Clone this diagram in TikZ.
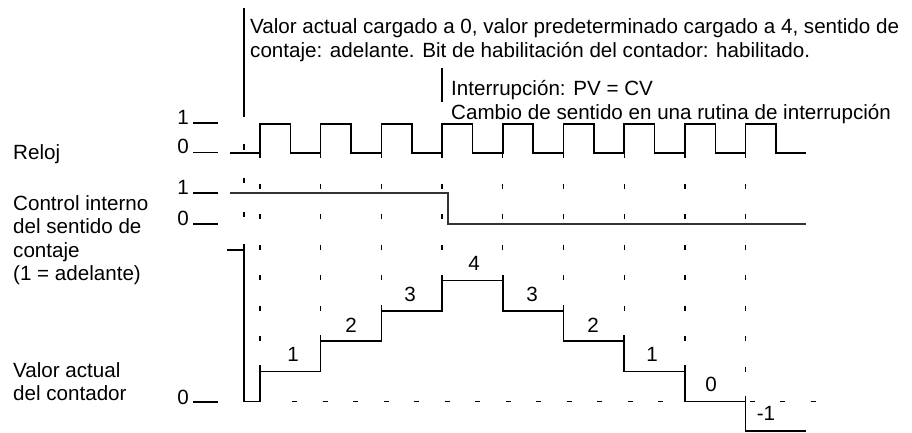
\documentclass[tikz,border=0pt]{standalone}
\usepackage{fontspec}
\setmainfont{Liberation Sans}
\begin{document}
\begin{tikzpicture}[x=1pt,y=-1pt,
  txt/.style={inner sep=0pt, anchor=base west, font=\fontsize{20.6}{23.5}\selectfont},
  lvl/.style={inner sep=0pt, anchor=base east, font=\fontsize{20.6}{23.5}\selectfont},
  num/.style={inner sep=0pt, anchor=center, font=\fontsize{20.6}{23.5}\selectfont},
  sig/.style={line width=1.5pt},
  ctl/.style={line width=1.7pt, black!80},
  tick/.style={line width=1.4pt},
  gridline/.style={line width=1.3pt, dash pattern=on 5pt off 25.5pt},
]
\useasboundingbox (0,0) rectangle (912,432);

% ---- annotations ----
\coordinate (a1top) at (244,8);
\coordinate (a1bot) at (244,117);
\draw[tick] (a1top) -- (a1bot);
\node[txt] (t1) at (250,33) {Valor actual cargado a 0, valor predeterminado cargado a 4, sentido de};
\node[txt] (t2) at (250,57) {contaje: adelante. Bit de habilitación del contador: habilitado.};

\coordinate (a2top) at (442,68);
\coordinate (a2bot) at (442,102);
\draw[tick] (a2top) -- (a2bot);
\node[txt] (t3) at (451,95) {Interrupción: PV = CV};
\node[txt] (t4) at (451,119) {Cambio de sentido en una rutina de interrupción};

% ---- left labels ----
\node[txt] (reloj) at (13,159) {Reloj};
\node[txt] (c1) at (13,210) {Control interno};
\node[txt] (c2) at (13,233.5) {del sentido de};
\node[txt] (c3) at (13,257) {contaje};
\node[txt] (c4) at (13,280.5) {(1 = adelante)};
\node[txt] (v1) at (13,377) {Valor actual};
\node[txt] (v2) at (13,400.5) {del contador};

% ---- level marks ----
\node[lvl] (r1) at (189,124) {1};
\draw[tick] (193,123) -- (218,123);
\node[lvl] (r0) at (189,153) {0};
\draw[tick] (193,152.5) -- (218,152.5);
\node[lvl] (k1) at (189,194) {1};
\draw[tick] (193,193) -- (218,193);
\node[lvl] (k0) at (189,225) {0};
\draw[tick] (193,224) -- (218,224);
\node[lvl] (n0) at (189,404) {0};
\draw[tick] (193,402) -- (218,402);

% ---- dashed guide columns ----
\draw[tick] (244,144) -- (244,150) (244,178) -- (244,183) (244,212) -- (244,217);
\foreach \k/\top in {0/365,1/335,2/305,3/275,4/275,5/305,6/335,7/365,8/396}
  \draw[gridline] ({260+60.7*\k},153) -- ({260+60.7*\k},\top);
\draw[gridline] (292,401.5) -- (818,401.5);

% ---- clock ----
\draw[sig] (230,153) foreach \k in {0,...,8} {
  -- ({260+60.7*\k},153) -- ({260+60.7*\k},124) -- ({290.4+60.7*\k},124) -- ({290.4+60.7*\k},153) }
  -- (806,153);

% ---- direction control ----
\draw[ctl] (230,193) -- (448,193) -- (448,224) -- (806,224);

% ---- counter value ----
\draw[sig] (227,250) -- (244,250);
\draw[sig] (244,244) -- (244,401.5) -- (260,401.5)
  -- (260,371.3) -- (320.7,371.3)
  -- (320.7,341.1) -- (381.4,341.1)
  -- (381.4,310.9) -- (442.1,310.9)
  -- (442.1,280.7) -- (502.8,280.7)
  -- (502.8,310.9) -- (563.5,310.9)
  -- (563.5,341.1) -- (624.2,341.1)
  -- (624.2,371.3) -- (684.9,371.3)
  -- (684.9,401.5) -- (745.6,401.5)
  -- (745.6,431.2) -- (806,431.2);
\foreach \k/\top in {0/365.3,1/335.1,2/304.9,3/274.7,4/274.7,5/304.9,6/335.1,7/365.3,8/395.5}
  \draw[sig] ({260+60.7*\k},\top) -- ({260+60.7*\k},\top+7);

% ---- step values ----
\node[num] (s1) at (293,354) {1};
\node[num] (s2) at (351,325) {2};
\node[num] (s3) at (410,294) {3};
\node[num] (s4) at (474,263) {4};
\node[num] (s5) at (532,294) {3};
\node[num] (s6) at (593,325) {2};
\node[num] (s7) at (652,354) {1};
\node[num] (s8) at (711,384) {0};
\node[num] (s9) at (766,413) {-1};
\end{tikzpicture}
\end{document}
